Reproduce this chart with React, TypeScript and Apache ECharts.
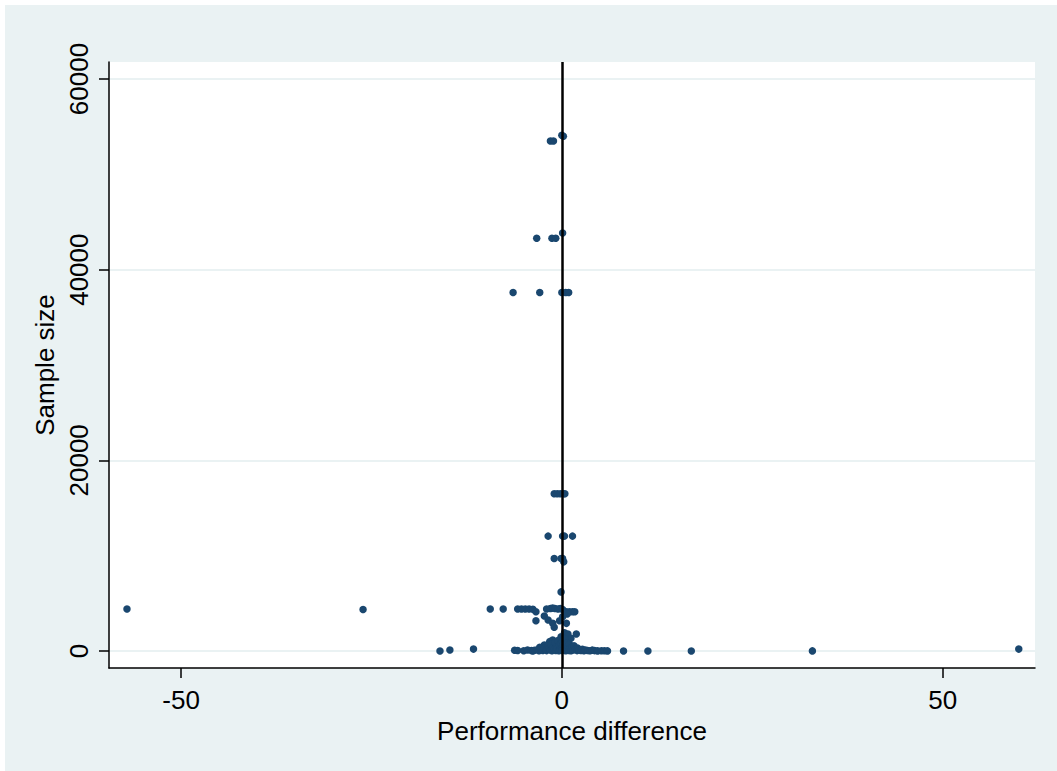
import React, { useEffect, useRef } from "react";
import * as echarts from "echarts";

const xTicks = [-50, 0, 50];
const yTicks = [0, 20000, 40000, 60000];
const xTitle = "Performance difference";
const yTitle = "Sample size";

// [performance difference, sample size]
const upperPoints: number[][] = [
  [0.0, 54100], [0.2, 54000], [-1.5, 53500], [-1.1, 53500],
  [0.1, 43850], [-3.3, 43300], [-1.3, 43300], [-0.8, 43300],
  [-6.4, 37600], [-2.9, 37600], [0.0, 37600], [0.5, 37600], [0.9, 37600],
];
const midPoints: number[][] = [
  [-1.0, 16500], [-0.6, 16500], [-0.2, 16500], [0.2, 16500], [0.4, 16500],
  [-1.8, 12050], [0.1, 12050], [0.35, 12050], [1.4, 12050],
  [-1.0, 9700], [-0.1, 9700], [0.1, 9700], [0.25, 9350],
  [-0.1, 6200],
];
const rowPoints: number[][] = [
  [-57.1, 4400], [-26.1, 4350], [-9.4, 4400], [-7.7, 4400],
  [-5.8, 4400], [-5.3, 4400], [-4.8, 4400], [-4.3, 4400], [-3.8, 4380],
  [-3.4, 4120], [-2.0, 4400], [-1.5, 4450], [-1.2, 4500], [-0.9, 4450],
  [-0.5, 4400], [-0.2, 4450], [0.1, 4350], [0.6, 4120], [1.0, 4120],
  [1.4, 4120], [1.7, 4120],
  [-3.4, 3180], [-2.3, 3670], [-1.8, 3250], [-1.2, 2900], [-1.0, 2490],
  [-0.3, 3180], [0.1, 3600], [0.6, 2900], [0.7, 3880], [0.35, 1920],
  [0.8, 1780], [1.9, 1780], [1.2, 1330], [-0.1, 1500], [-1.2, 1150],
  [-1.6, 980], [-2.3, 630], [-2.9, 390],
];
const bottomPoints: number[][] = [
  [-16.0, 0], [-14.7, 100], [-11.6, 200], [-6.2, 80], [-5.8, 60],
  [-5.0, 30], [-4.5, 100], [-4.0, 50], [-3.8, 10], [-3.6, 80], [-3.2, 120],
  [-3.0, 30], [-2.8, 200], [-2.5, 60], [-2.3, 300], [-2.1, 150], [-2.0, 40],
  [-1.8, 500], [-1.7, 250], [-1.5, 100], [-1.4, 700], [-1.3, 20], [-1.2, 350],
  [-1.0, 180], [-0.9, 900], [-0.8, 60], [-0.7, 450], [-0.6, 250], [-0.5, 1100],
  [-0.4, 30], [-0.3, 600], [-0.2, 150], [-0.1, 800], [0.0, 300], [0.0, 50],
  [0.1, 1000], [0.2, 200], [0.2, 650], [0.3, 90], [0.4, 1250], [0.4, 400],
  [0.5, 20], [0.6, 850], [0.7, 150], [0.8, 500], [0.9, 60], [1.0, 700],
  [1.1, 250], [1.2, 30], [1.3, 400], [1.5, 100], [1.6, 550], [1.8, 200],
  [2.0, 40], [2.1, 300], [2.3, 120], [2.5, 60], [2.7, 180], [2.9, 30],
  [3.1, 100], [3.4, 50], [3.7, 20], [4.0, 90], [4.3, 40], [4.7, 10],
  [5.2, 30], [5.6, 20], [6.0, 10],
  [8.1, 0], [11.3, 0], [17.0, 0], [32.9, 10], [60.0, 200],
];

const allPoints = [...upperPoints, ...midPoints, ...rowPoints, ...bottomPoints];

const BG = "#eaf2f3";
const NAVY = "#1a476f";
const FONT = "'Liberation Sans', Arial, Helvetica, sans-serif";

export default function App() {
  const ref = useRef<HTMLDivElement>(null);
  useEffect(() => {
    if (!ref.current) return;
    const chart = echarts.init(ref.current, undefined, { renderer: "svg" });
    chart.setOption({
      animation: false,
      backgroundColor: BG,
      textStyle: { fontFamily: FONT },
      grid: {
        left: 104,
        top: 57,
        right: 22,
        bottom: 103,
        show: true,
        backgroundColor: "#ffffff",
        borderWidth: 0,
      },
      xAxis: {
        type: "value",
        min: -59.46,
        max: 62.13,
        name: xTitle,
        nameLocation: "middle",
        nameGap: 43,
        nameTextStyle: { fontSize: 26, color: "#000", fontFamily: FONT },
        axisLine: { show: true, onZero: false, lineStyle: { color: "#000", width: 1.5 } },
        axisTick: { show: true, length: 10, customValues: xTicks, lineStyle: { color: "#000", width: 1.5 } },
        axisLabel: {
          customValues: xTicks,
          margin: 19,
          fontSize: 26,
          color: "#000",
          fontFamily: FONT,
          formatter: (v: number) => String(v),
        },
        splitLine: { show: false },
      },
      yAxis: {
        type: "value",
        min: -1783,
        max: 61783,
        name: yTitle,
        nameLocation: "middle",
        nameGap: 37,
        nameTextStyle: { fontSize: 26, color: "#000", fontFamily: FONT },
        axisLine: { show: true, onZero: false, lineStyle: { color: "#000", width: 1.5 } },
        axisTick: { show: true, length: 10, customValues: yTicks, lineStyle: { color: "#000", width: 1.5 } },
        axisLabel: {
          customValues: yTicks,
          rotate: 90,
          margin: 17,
          fontSize: 26,
          color: "#000",
          fontFamily: FONT,
          formatter: (v: number) => String(v),
        },
        splitLine: { show: true, lineStyle: { color: BG, width: 2 } },
      },
      series: [
        {
          type: "scatter",
          data: allPoints,
          symbol: "circle",
          symbolSize: 7.5,
          itemStyle: { color: NAVY, opacity: 1 },
          silent: true,
          markLine: {
            silent: true,
            symbol: ["none", "none"],
            label: { show: false },
            lineStyle: { color: "#000", width: 2.5, type: "solid" },
            data: [{ xAxis: 0 }],
          },
        },
      ],
    });
    return () => chart.dispose();
  }, []);
  return (
    <div style={{ position: "absolute", left: 0, top: 0, width: 1057, height: 771, background: "#fff" }}>
      <div ref={ref} style={{ position: "absolute", left: 5, top: 5, width: 1052, height: 766 }} />
    </div>
  );
}
